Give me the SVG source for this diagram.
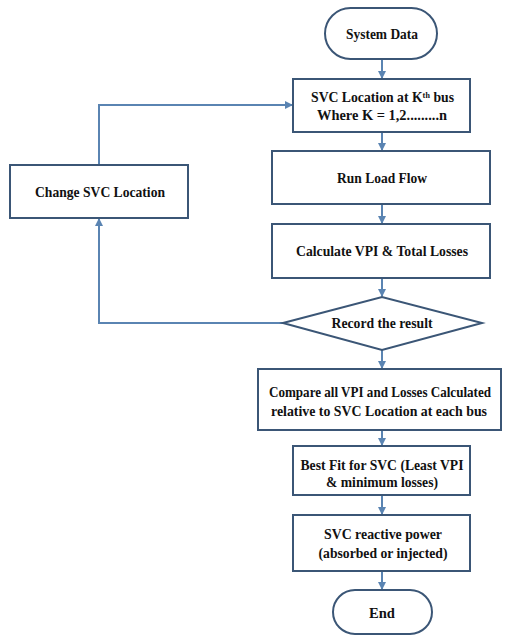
<svg xmlns="http://www.w3.org/2000/svg" width="506" height="637" viewBox="0 0 506 637">
<style>
.box{fill:#ffffff;stroke:#3b5676;stroke-width:2}
.t{font-family:"Liberation Serif","Times New Roman","DejaVu Serif",serif;font-weight:bold;font-size:15px;fill:#111111;text-anchor:middle}
.s{text-anchor:start}
.c{fill:none;stroke:#5a84b2;stroke-width:2}
</style>
<defs>
<marker id="ah" markerWidth="8" markerHeight="8" refX="7" refY="4" orient="auto" markerUnits="userSpaceOnUse">
<path d="M0,0 L8,4 L0,8 Z" fill="#5a84b2"/>
</marker>
</defs>
<rect width="506" height="637" fill="#ffffff"/>
<g id="connectors">
<line class="c" x1="382" y1="59" x2="382" y2="78" marker-end="url(#ah)"/>
<line class="c" x1="382" y1="132" x2="382" y2="150" marker-end="url(#ah)"/>
<line class="c" x1="382" y1="204" x2="382" y2="223" marker-end="url(#ah)"/>
<line class="c" x1="382" y1="278" x2="382" y2="296" marker-end="url(#ah)"/>
<line class="c" x1="382" y1="350" x2="382" y2="368" marker-end="url(#ah)"/>
<line class="c" x1="382" y1="430" x2="382" y2="445" marker-end="url(#ah)"/>
<line class="c" x1="382" y1="495" x2="382" y2="514" marker-end="url(#ah)"/>
<line class="c" x1="382" y1="571" x2="382" y2="589" marker-end="url(#ah)"/>
<polyline class="c" points="283,323 99,323 99,219" marker-end="url(#ah)"/>
<polyline class="c" points="99,165 99,105 292,105" marker-end="url(#ah)"/>
</g>
<g id="system-data">
<rect class="box" x="325" y="8" width="112" height="51" rx="25.5"/>
<text class="t" x="382" y="39" textLength="72" lengthAdjust="spacingAndGlyphs">System Data</text>
</g>
<g id="svc-location">
<rect class="box" x="293" y="79" width="177" height="53"/>
<text class="t s" x="311" y="102" textLength="143" lengthAdjust="spacingAndGlyphs">SVC Location at  Kᵗʰ bus</text>
<text class="t" x="382" y="120" textLength="130" lengthAdjust="spacingAndGlyphs">Where K = 1,2.........n</text>
</g>
<g id="run-load-flow">
<rect class="box" x="272" y="151" width="218" height="53"/>
<text class="t" x="382" y="183" textLength="90" lengthAdjust="spacingAndGlyphs">Run Load Flow</text>
</g>
<g id="calculate">
<rect class="box" x="272" y="224" width="218" height="54"/>
<text class="t" x="382" y="256" textLength="172" lengthAdjust="spacingAndGlyphs">Calculate VPI &amp; Total Losses</text>
</g>
<g id="record">
<polygon class="box" points="283,323 382,297 482,323 382,350"/>
<text class="t" x="382" y="328" textLength="101" lengthAdjust="spacingAndGlyphs">Record the result</text>
</g>
<g id="change-svc">
<rect class="box" x="10" y="165" width="178" height="53"/>
<text class="t" x="100" y="197" textLength="130" lengthAdjust="spacingAndGlyphs">Change SVC Location</text>
</g>
<g id="compare">
<rect class="box" x="258" y="369" width="243" height="61"/>
<text class="t" x="380" y="397" style="font-size:14px" textLength="222" lengthAdjust="spacingAndGlyphs">Compare all VPI and Losses Calculated</text>
<text class="t" x="379" y="416" style="font-size:14px" textLength="216" lengthAdjust="spacingAndGlyphs">relative to SVC Location at each bus</text>
</g>
<g id="best-fit">
<rect class="box" x="293" y="446" width="177" height="49"/>
<text class="t" x="382" y="470" textLength="163" lengthAdjust="spacingAndGlyphs">Best Fit for SVC (Least VPI</text>
<text class="t" x="382" y="487" textLength="112" lengthAdjust="spacingAndGlyphs">&amp; minimum losses)</text>
</g>
<g id="svc-reactive">
<rect class="box" x="293" y="515" width="177" height="56"/>
<text class="t" x="383" y="539" textLength="118" lengthAdjust="spacingAndGlyphs">SVC reactive power</text>
<text class="t" x="383" y="558" textLength="129" lengthAdjust="spacingAndGlyphs">(absorbed or injected)</text>
</g>
<g id="end">
<rect class="box" x="333" y="590" width="99" height="44" rx="22"/>
<text class="t" x="382" y="618" textLength="26" lengthAdjust="spacingAndGlyphs">End</text>
</g>
</svg>
